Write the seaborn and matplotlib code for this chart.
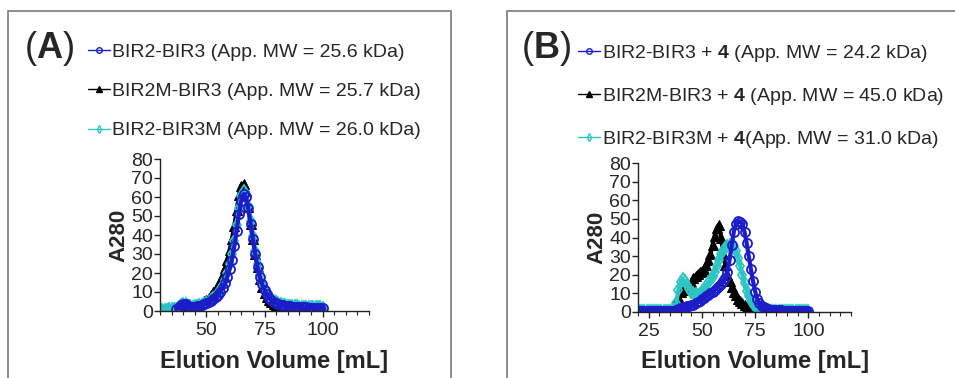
import numpy as np
import pandas as pd
import matplotlib
matplotlib.use("Agg")
import matplotlib.pyplot as plt
import seaborn as sns
from matplotlib.lines import Line2D
from matplotlib.patches import Rectangle
from matplotlib.ticker import MultipleLocator

# ---- data (A280 vs elution volume, 1 mL steps) ----
vol_a = np.arange(30, 101)
vol_b = np.arange(20, 101)

a_bir2_bir3 = [np.nan] * 7 + [
    1.0, 2.0, 3.0, 3.8, 3.6, 2.8, 2.3, 2.2, 2.3, 2.5, 2.8, 3.1, 3.5, 4.0,
    4.6, 5.3, 6.2, 7.3, 8.6, 10.2, 12.2, 14.8, 18, 22, 27, 34, 42, 51, 58,
    61.5, 60, 54, 46, 38, 30, 23, 18, 14, 11, 8.7, 7.0, 5.7, 4.8, 4.1, 3.6,
    3.2, 2.9, 2.7, 2.5, 2.4, 2.3, 2.2, 2.1, 2.0, 2.0, 1.9, 1.9, 1.8, 1.8,
    1.7, 1.7, 1.6, 1.6, 1.5]
a_bir2m_bir3 = [
    0.5, 0.8, 1.0, 1.0, 1.1, 1.2, 1.3, 1.5, 2.0, 3.0, 3.8, 3.8, 3.2, 2.8,
    2.7, 2.9, 3.3, 3.8, 4.4, 5.1, 6.0, 7.0, 8.3, 9.8, 11.5, 13.5, 16.0,
    19.0, 22.5, 27, 32, 38, 45, 53, 61, 66, 67, 63, 55, 46, 38, 30, 23, 17,
    12.5, 9.5, 7.2, 5.6, 4.5, 3.8, 3.3, 2.9, 2.6, 2.3, 2.1, 2.0, 1.9, 1.8,
    1.7, 1.6, 1.5, 1.5, 1.4, 1.4, 1.3, 1.3, 1.2, 1.2, 1.1, 1.1, 1.0]
a_bir2_bir3m = [
    0.0, 0.4, 0.6, 0.7, 0.8, 0.9, 1.0, 1.3, 2.0, 3.0, 3.7, 3.5, 2.8, 2.4,
    2.3, 2.4, 2.6, 2.9, 3.3, 3.7, 4.3, 5.0, 5.8, 6.8, 8.0, 9.5, 11.3, 13.6,
    16.5, 20, 24.5, 30, 37, 45.5, 54, 60.5, 63, 61.5, 55.5, 47.5, 39.5,
    31.5, 24.5, 19, 15, 11.8, 9.4, 7.6, 6.2, 5.2, 4.5, 4.0, 3.6, 3.3, 3.0,
    2.8, 2.7, 2.6, 2.5, 2.4, 2.3, 2.3, 2.2, 2.2, 2.1, 2.1, 2.0, 2.0, 1.9,
    1.9, 1.8]

b_bir2_bir3 = [0.5] * 17 + [
    0.8, 1.2, 1.8, 2.3, 2.6, 2.8, 3.0, 3.2, 3.5, 4.0, 4.6, 5.3, 6.0, 6.8,
    7.6, 8.4, 9.2, 10.0, 10.8, 11.7, 12.7, 13.8, 15.0, 16.5, 18.5, 21.5,
    28, 36, 43, 47.5, 48.8, 48.5, 47, 43, 37, 30, 23, 16.5, 11, 7, 4.6,
    3.2, 2.5, 2.0, 1.5, 1.3, 1.2, 1.1, 1.0, 0.9, 0.9, 0.8, 0.8, 0.8, 0.7,
    0.7, 0.7, 0.6, 0.6, 0.6, 0.6, 0.5, 0.5, 0.5]
b_bir2m_bir3 = [0.3] * 17 + [
    0.8, 3, 8, 11, 12.3, 12, 12.5, 14, 16, 18, 19.5, 20.5, 21.5, 22, 23,
    25, 28, 31, 36, 41, 45, 46.5, 40, 31, 25, 20, 16.5, 13.5, 11, 9, 7.2,
    5.8, 4.6, 3.7, 2.9, 2.3, 1.7, 1.2, 0.8, 0.6, 0.5] + [0.4] * 23
b_bir2_bir3m = [0.3] * 17 + [
    1.0, 5, 12, 16, 17.5, 16.5, 14.5, 12.5, 11, 10, 9.5, 9.3, 9.8, 11,
    12.5, 14, 15.5, 17, 19, 21.5, 24.5, 28, 31, 33, 34.5, 35.5, 36, 36.5,
    35.5, 33, 29, 24.5, 20, 15.5, 11.5, 8.5, 6, 4.3, 3.0, 2.2, 1.6, 1.2,
    1.0, 0.8, 0.7, 0.7, 0.7, 0.6, 0.6, 0.6, 0.6, 0.5, 0.5, 0.5, 0.5, 0.5,
    0.5, 0.4, 0.4, 0.4, 0.4, 0.4, 0.4, 0.4]

labels_a = ["BIR2-BIR3 (App. MW = 25.6 kDa)",
            "BIR2M-BIR3 (App. MW = 25.7 kDa)",
            "BIR2-BIR3M (App. MW = 26.0 kDa)"]
labels_b = [r"BIR2-BIR3 + $\mathbf{4}$ (App. MW = 24.2 kDa)",
            r"BIR2M-BIR3 + $\mathbf{4}$ (App. MW = 45.0 kDa)",
            r"BIR2-BIR3M + $\mathbf{4}$(App. MW = 31.0 kDa)"]

BLUE = "#1c1cc8"
BLACK = "#000000"
CYAN = "#2ec4c4"

sns.set_style("ticks")
plt.rcParams["font.family"] = ["Liberation Sans", "DejaVu Sans"]
plt.rcParams["mathtext.fontset"] = "custom"
plt.rcParams["mathtext.rm"] = "Liberation Sans"
plt.rcParams["mathtext.bf"] = "Liberation Sans:bold"

# heavy traces: dense markers on a thick line, like the exported chromatogram
styles = {
    "blue": dict(color=BLUE, marker="o", markersize=6.5, markerfacecolor="none",
                 markeredgecolor=BLUE, markeredgewidth=1.3, linewidth=3.0),
    "black": dict(color=BLACK, marker="^", markersize=6.5, markerfacecolor=BLACK,
                  markeredgecolor=BLACK, linewidth=3.0),
    "cyan": dict(color=CYAN, marker="d", markersize=6.5, markerfacecolor="none",
                 markeredgecolor=CYAN, markeredgewidth=1.3, linewidth=3.0),
}

fig = plt.figure(figsize=(9.55, 3.78), dpi=100)
W, H = 955, 378


def px_axes(x0, y0, x1, y1):
    return fig.add_axes([x0 / W, 1 - y1 / H, (x1 - x0) / W, (y1 - y0) / H])


ax_a = px_axes(160, 159, 369, 311)
ax_b = px_axes(638, 163, 851, 312)


def draw_panel(ax, vol, blue, black, cyan, xlim, xticks, label_x):
    df = pd.DataFrame({"vol": vol, "blue": blue, "black": black, "cyan": cyan})
    # black first, blue ends up on top as in the original trace
    for key in ["black", "cyan", "blue"]:
        sns.lineplot(data=df, x="vol", y=key, ax=ax, **styles[key])
    ax.set_xlim(*xlim)
    ax.set_ylim(0, 80)
    ax.set_xticks(xticks)
    ax.xaxis.set_minor_locator(MultipleLocator(5))
    ax.set_yticks(range(0, 81, 10))
    sns.despine(ax=ax)
    for s in ["left", "bottom"]:
        ax.spines[s].set_linewidth(1.0)
        ax.spines[s].set_color("#222222")
    ax.tick_params(axis="both", which="major", length=4, width=1.0,
                   labelsize=14, pad=1, color="#222222")
    ax.tick_params(axis="x", which="major", pad=4)
    ax.tick_params(axis="x", which="minor", length=3, width=0.8, color="#222222")
    ax.set_xlabel("Elution Volume [mL]", fontsize=17, fontweight="bold")
    ax.xaxis.set_label_coords(label_x, -0.255)
    ax.set_ylabel("A280", fontsize=16, fontweight="bold", labelpad=1)


draw_panel(ax_a, vol_a, a_bir2_bir3, a_bir2m_bir3, a_bir2_bir3m,
           (30, 120), [50, 75, 100], 0.545)
draw_panel(ax_b, vol_b, b_bir2_bir3, b_bir2m_bir3, b_bir2_bir3m,
           (20, 120), [25, 50, 75, 100], 0.55)


def legend_handles():
    hs = []
    for k in ["blue", "black", "cyan"]:
        st = dict(styles[k])
        st["markersize"] = 4
        st["markeredgewidth"] = 1.0
        st["linewidth"] = 1.0
        hs.append(Line2D([], [], **st))
    return hs


leg_kw = dict(loc="upper left", frameon=False, fontsize=14, handlelength=1.15,
              handletextpad=0.1, labelspacing=1.12, borderaxespad=0, borderpad=0)
fig.legend(legend_handles(), labels_a, bbox_to_anchor=(88 / W, 1 - 43 / H), **leg_kw)
fig.legend(legend_handles(), labels_b, bbox_to_anchor=(578 / W, 1 - 43 / H), **leg_kw)

fig.text(24 / W, 1 - 49 / H, r"($\mathbf{A}$)", fontsize=26, va="center", ha="left")
fig.text(521 / W, 1 - 49 / H, r"($\mathbf{B}$)", fontsize=26, va="center", ha="left")

# panel frames
for x0, x1 in [(8, 451), (507, 960)]:
    fig.add_artist(Rectangle((x0 / W, -0.05), (x1 - x0) / W, 1.05 - 11 / H,
                             transform=fig.transFigure, fill=False,
                             edgecolor="#7a7a7a", linewidth=1.2))

fig.savefig("out.png", dpi=100)
